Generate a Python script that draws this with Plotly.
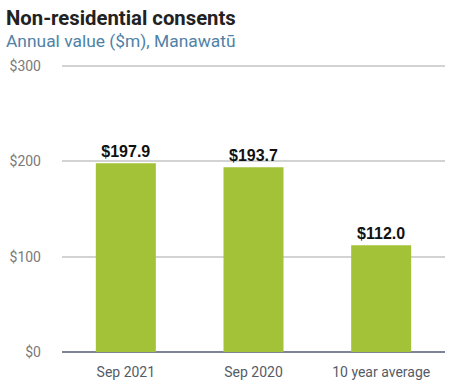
import plotly.graph_objects as go

categories = ["Sep 2021", "Sep 2020", "10 year average"]
values = [197.9, 193.7, 112.0]
tick_vals = [0, 100, 200, 300]
tick_text = ["$0", "$100", "$200", "$300"]
labels = [f"<b>${v:.1f}</b>" for v in values]

fig = go.Figure(go.Bar(
    x=categories, y=values, text=labels, textposition="outside",
    marker=dict(color="#a3c238", line=dict(width=0)),
    textfont=dict(family="Liberation Sans, Arial", size=16, color="#111111"),
    width=0.47, cliponaxis=False,
))
fig.update_layout(
    width=453, height=390,
    margin=dict(l=62, r=8, t=63, b=38),
    plot_bgcolor="white", paper_bgcolor="white",
    showlegend=False,
    font=dict(family="Roboto", color="#6b6b6b", size=13),
    xaxis=dict(showgrid=False, ticks="", tickfont=dict(size=14, color="#555b66"),
               showline=False, automargin=False, ticklabelstandoff=10),
    yaxis=dict(range=[0, 303], tickvals=tick_vals, ticktext=tick_text,
               showgrid=True, gridcolor="#d3d3d3", gridwidth=1.5,
               zeroline=True, zerolinecolor="#7d849a", zerolinewidth=1.5,
               tickfont=dict(size=14, color="#7a7a7a"), ticklabelstandoff=20,
               automargin=False),
    annotations=[
        dict(text="<b>Non-residential consents</b>", x=0, xref="paper", xanchor="left",
             xshift=-58, y=1, yref="paper", yanchor="bottom", yshift=31, showarrow=False,
             font=dict(family="Roboto", size=20.3, color="#222222")),
        dict(text="Annual value ($m), Manawatū", x=0, xref="paper", xanchor="left",
             xshift=-58, y=1, yref="paper", yanchor="bottom", yshift=10, showarrow=False,
             font=dict(family="Roboto", size=17.4, color="#4f82a6")),
    ],
)
fig.write_html("out.html", config={"displayModeBar": False},
               post_script="document.body.style.margin='0';document.body.style.overflow='hidden';")
